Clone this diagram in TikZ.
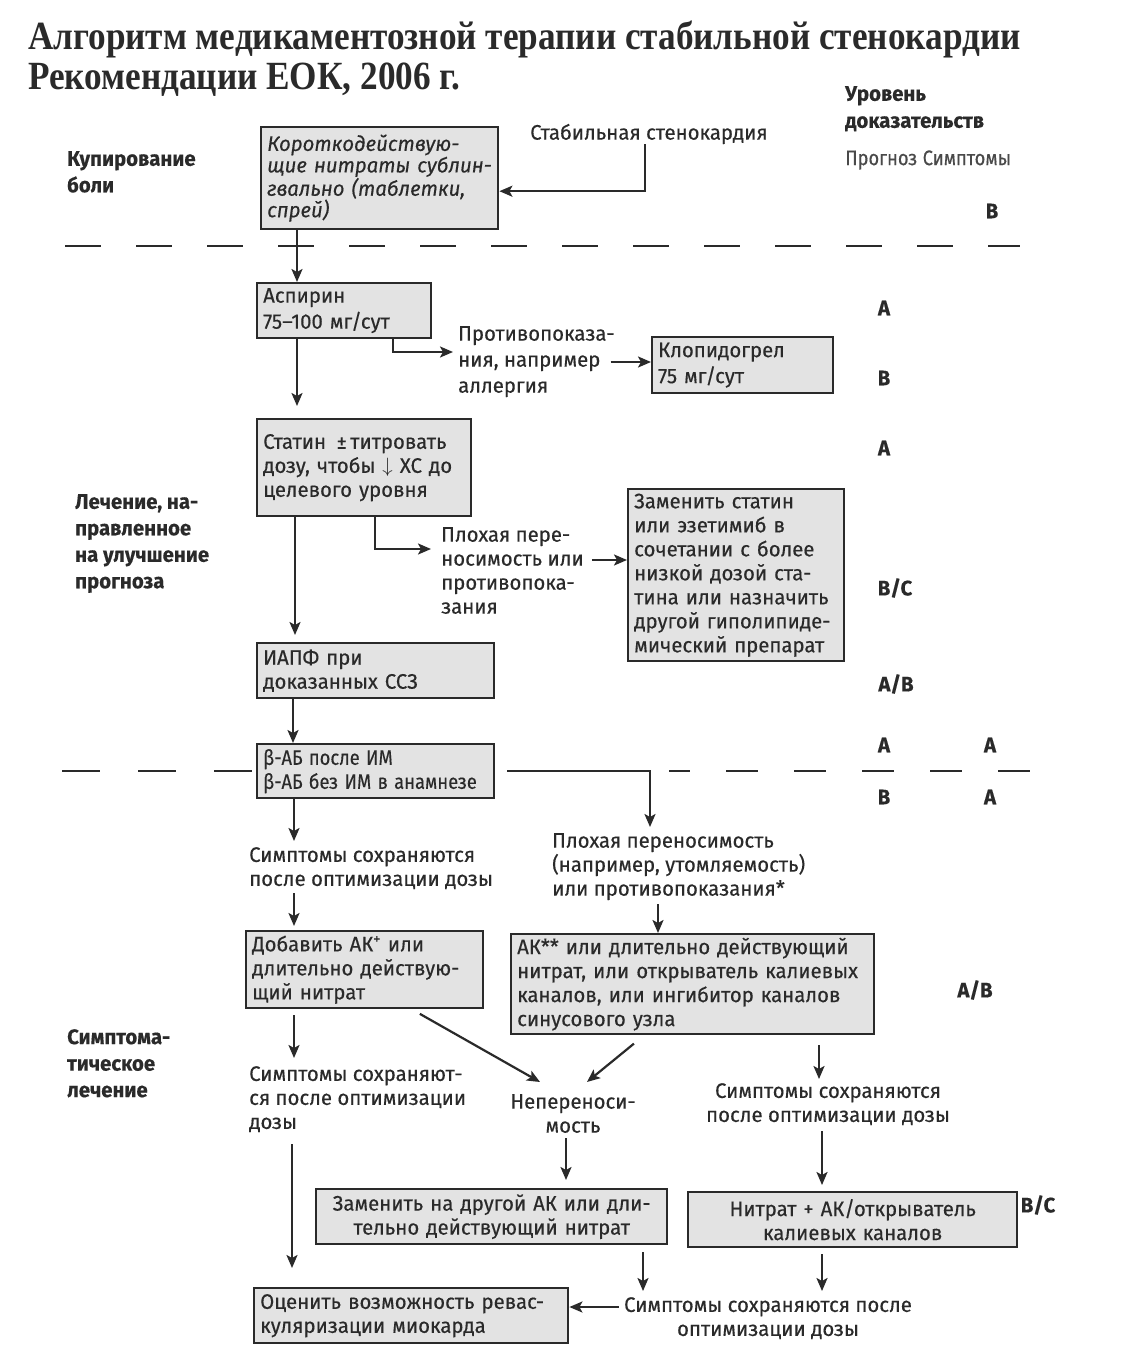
\documentclass[tikz,border=0pt]{standalone}
\usepackage{graphicx}
\usepackage{fontspec}
\setmainfont{Fira Sans}[FakeStretch=0.97,FakeBold=0.35]
\newfontfamily\titlefont{Liberation Serif}[FakeStretch=0.88]
\usetikzlibrary{arrows.meta,calc}
\definecolor{ink}{HTML}{2A2A2A}
\definecolor{boxfill}{HTML}{E3E3E3}
\newcommand\bodyfont{\fontsize{21}{24}\selectfont}
\newcommand\labfont{\fontsize{21}{26.5}\selectfont\bfseries}
\newcommand\narrowline[1]{\scalebox{0.9}[1]{#1}}
\tikzset{
  box/.style={draw=ink, fill=boxfill, line width=2.4pt, inner xsep=6pt, inner ysep=0pt,
    anchor=north west, align=left, font=\bodyfont, text=ink},
  txt/.style={inner sep=0pt, anchor=north west, align=left, font=\bodyfont, text=ink},
  lab/.style={inner sep=0pt, anchor=north west, align=left, font=\labfont, text=ink},
  lvl/.style={inner sep=0pt, font=\bodyfont\bfseries, text=ink},
  arr/.style={draw=ink, line width=2.2pt, -{Stealth[length=13pt,width=11pt,inset=3pt]}},
  sepline/.style={draw=ink, line width=2.2pt},
}
\begin{document}
\begin{tikzpicture}[x=1pt,y=-1pt]
\useasboundingbox (0,0) rectangle (1127,1359);
\fill[white] (0,0) rectangle (1127,1359);

% title
\node[inner sep=0pt, anchor=base west, font=\titlefont\fontsize{40}{44}\selectfont\bfseries, text=ink] (t1) at (28,50) {Алгоритм медикаментозной терапии стабильной стенокардии};
\node[inner sep=0pt, anchor=base west, font=\titlefont\fontsize{40}{44}\selectfont\bfseries, text=ink] (t2) at (28,90) {Рекомендации ЕОК, 2006 г.};

% evidence header
\node[inner sep=0pt, anchor=north west, align=left, font=\fontsize{21}{27}\selectfont\bfseries, text=ink] (lev) at (845,86) {Уровень\\доказательств};
\node[inner sep=0pt, anchor=west, font=\bodyfont, text=ink!85] (progsym) at (845,160) {\narrowline{Прогноз\hspace{6pt}Симптомы}};

% section labels
\node[lab] (l1) at (67,151) {Купирование\\боли};
\node[lab] (l2) at (75,494) {Лечение, на-\\правленное\\на улучшение\\прогноза};
\node[lab] (l3) at (67,1029) {Симптома-\\тическое\\лечение};

% separators
\draw[sepline, dash pattern=on 36pt off 35pt] (65,246) -- (1020,246);
\draw[sepline, dash pattern=on 38pt off 38pt] (62,771) -- (256,771);
\draw[sepline, dash pattern=on 32pt off 36pt, dash phase=11pt] (669,771) -- (1043,771);

% boxes
\node[box, font=\fontsize{21}{21.5}\selectfont\itshape, minimum width=237pt, minimum height=102pt, text width=225pt] (nitr) at (260,126)
  {Короткодействую-\\щие нитраты сублин-\\гвально (таблетки,\\спрей)};
\node[box, font=\fontsize{21}{26}\selectfont, minimum width=174pt, minimum height=55pt, text width=162pt] (asp) at (256,282)
  {Аспирин\\75–100 мг/сут};
\node[box, font=\fontsize{21}{26}\selectfont, minimum width=181pt, minimum height=56pt, text width=169pt] (clop) at (651,336)
  {Клопидогрел\\75 мг/сут};
\node[box, minimum width=214pt, minimum height=97pt, text width=202pt] (stat) at (256,418)
  {Статин \,±\,титровать\\дозу, чтобы $\downarrow$ ХС до\\целевого уровня};
\node[box, minimum width=216pt, minimum height=172pt, text width=204pt] (repl) at (627,488)
  {Заменить статин\\или эзетимиб в\\сочетании с более\\низкой дозой ста-\\тина или назначить\\другой гиполипиде-\\мический препарат};
\node[box, minimum width=237pt, minimum height=55pt, text width=225pt] (iapf) at (256,642)
  {ИАПФ при\\доказанных ССЗ};
\node[box, minimum width=237pt, minimum height=54pt, text width=225pt, inner xsep=4pt] (beta) at (256,743)
  {\narrowline{β-АБ после ИМ}\\\narrowline{β-АБ без ИМ в анамнезе}};
\node[box, minimum width=237pt, minimum height=77pt, text width=225pt] (add) at (245,930)
  {Добавить АК\textsuperscript{+} или\\длительно действую-\\щий нитрат};
\node[box, minimum width=363pt, minimum height=100pt, text width=351pt] (ak) at (510,933)
  {АК** или длительно действующий\\нитрат, или открыватель калиевых\\каналов, или ингибитор каналов\\синусового узла};
\node[box, align=center, minimum width=351pt, minimum height=55pt, text width=339pt] (chg) at (315,1188)
  {Заменить на другой АК или дли-\\тельно действующий нитрат};
\node[box, align=center, minimum width=329pt, minimum height=55pt, text width=317pt] (nit) at (687,1191)
  {Нитрат + АК/открыватель\\калиевых каналов};
\node[box, minimum width=314pt, minimum height=55pt, text width=302pt] (eval) at (253,1287)
  {Оценить возможность ревас-\\куляризации миокарда};

% free texts
\node[txt, anchor=west] (stab) at (530,134) {Стабильная стенокардия};
\node[txt, font=\fontsize{21}{26}\selectfont] (contra) at (458,326) {Противопоказа-\\ния, например\\аллергия};
\node[txt] (poor1) at (441,527) {Плохая пере-\\носимость или\\противопока-\\зания};
\node[txt] (sym1) at (249,847) {Симптомы сохраняются\\после оптимизации дозы};
\node[txt] (poor2) at (552,833) {Плохая переносимость\\(например, утомляемость)\\или противопоказания*};
\node[txt] (sym2) at (249,1066) {Симптомы сохраняют-\\ся после оптимизации\\дозы};
\node[txt, anchor=north, align=center] (nonto) at (573,1094) {Непереноси-\\мость};
\node[txt, anchor=north, align=center] (sym3) at (828,1083) {Симптомы сохраняются\\после оптимизации дозы};
\node[txt, anchor=north, align=center] (sym4) at (768,1297) {Симптомы сохраняются после\\оптимизации дозы};

% evidence levels
\node[lvl] (e1) at (992,211) {B};
\node[lvl] (e2) at (884,308) {A};
\node[lvl] (e3) at (884,378) {B};
\node[lvl] (e4) at (884,448) {A};
\node[lvl] (e5) at (895,588) {B/C};
\node[lvl] (e6) at (896,684) {A/B};
\node[lvl] (e7) at (884,745) {A};
\node[lvl] (e8) at (990,745) {A};
\node[lvl] (e9) at (884,797) {B};
\node[lvl] (e10) at (990,797) {A};
\node[lvl] (e11) at (975,990) {A/B};
\node[lvl] (e12) at (1038,1205) {B/C};

% helper coordinates
\coordinate (x292) at (292,0);
\coordinate (x293) at (293,0);
\coordinate (x294) at (294,0);
\coordinate (x295) at (295,0);
\coordinate (x297) at (297,0);
\coordinate (x375) at (375,0);
\coordinate (x393) at (393,0);
\coordinate (x412) at (412,0);
\coordinate (x566) at (566,0);
\coordinate (x643) at (643,0);
\coordinate (x644) at (644,0);
\coordinate (x645) at (645,0);
\coordinate (x650) at (650,0);
\coordinate (x658) at (658,0);
\coordinate (x819) at (819,0);
\coordinate (x822) at (822,0);
\coordinate (y352) at (0,352);
\coordinate (y362) at (0,362);
\coordinate (y549) at (0,549);
\coordinate (y560) at (0,560);
\coordinate (y1307) at (0,1307);
\coordinate (dA) at (540,1082);
\coordinate (dB) at (587,1082);

% connectors
\draw[arr] (stab.south -| x645) |- ([yshift=-13pt]nitr.east);
\draw[arr] (nitr.south -| x297) -- (asp.north -| x297);
\draw[arr, shorten >=12pt] (asp.south -| x297) -- (stat.north -| x297);
\draw[arr, shorten >=5pt] (asp.south -| x393) |- (contra.west |- y352);
\draw[arr, shorten <=-4pt] (contra.east |- y362) -- (clop.west |- y362);
\draw[arr, shorten >=7pt] (stat.south -| x295) -- (iapf.north -| x295);
\draw[arr, shorten >=10pt] (stat.south -| x375) |- (poor1.west |- y549);
\draw[arr, shorten <=8pt] (poor1.east |- y560) -- (repl.west |- y560);
\draw[arr] (iapf.south -| x293) -- (beta.north -| x293);
\draw[arr, shorten <=12pt, shorten >=6pt] (beta.east) -| (poor2.north -| x650);
\draw[arr, shorten >=6pt] (beta.south -| x294) -- (sym1.north -| x294);
\draw[arr, shorten <=4pt, shorten >=4pt] (sym1.south -| x294) -- (add.north -| x294);
\draw[arr, shorten <=4pt] (poor2.south -| x658) -- (ak.north -| x658);
\draw[arr, shorten <=6pt, shorten >=8pt] (add.south -| x294) -- (sym2.north -| x294);
\draw[arr, shorten <=9pt] (add.south -| x412) -- (dA);
\draw[arr, shorten <=13pt] (ak.south -| x644) -- (dB);
\draw[arr, shorten <=10pt, shorten >=4pt] (ak.south -| x819) -- (sym3.north -| x819);
\draw[arr, shorten <=5pt, shorten >=8pt] (nonto.south -| x566) -- (chg.north -| x566);
\draw[arr, shorten <=6pt, shorten >=6pt] (sym3.south -| x822) -- (nit.north -| x822);
\draw[arr, shorten <=12pt, shorten >=19pt] (sym2.south -| x292) -- (eval.north -| x292);
\draw[arr, shorten <=7pt, shorten >=6pt] (chg.south -| x643) -- (sym4.north -| x643);
\draw[arr, shorten <=6pt, shorten >=6pt] (nit.south -| x822) -- (sym4.north -| x822);
\draw[arr, shorten <=5pt] (sym4.west |- y1307) -- (eval.east |- y1307);
\end{tikzpicture}
\end{document}
